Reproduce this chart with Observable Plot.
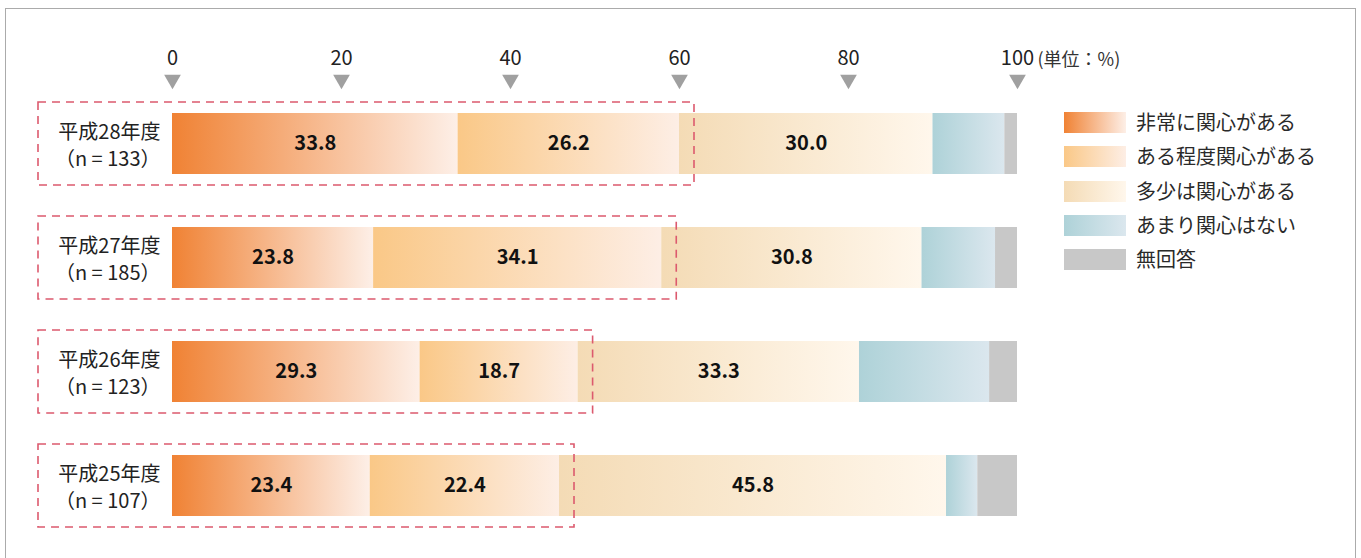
<!DOCTYPE html>
<html>
<head>
<meta charset="utf-8">
<script src="https://cdn.jsdelivr.net/npm/d3@7"></script>
<script src="https://cdn.jsdelivr.net/npm/@observablehq/plot@0.6"></script>
<style>
  html, body { margin: 0; padding: 0; background: #fff; }
  #wrap { position: relative; width: 1361px; height: 558px; overflow: hidden; font-family: "Noto Sans CJK JP", "Noto Sans", sans-serif; }
  #border { position: absolute; left: 5px; top: 8px; width: 1351px; height: 600px; border: 1.5px solid #ababab; box-sizing: border-box; }
  #chart { position: absolute; left: 0; top: 0; }
  #legend { position: absolute; left: 1064px; top: 112px; }
  .item { position: relative; height: 34.3px; }
  .sw { position: absolute; left: 0; top: 0; width: 62px; height: 21px; }
  .lab { position: absolute; left: 72px; top: -4px; font-size: 20px; line-height: 28px; color: #2a2a2a; white-space: nowrap; }
</style>
</head>
<body>
<div id="wrap">
  <div id="border"></div>
  <div id="chart"></div>
  <div id="legend"></div>
</div>
<script>
const rows = ["平成28年度", "平成27年度", "平成26年度", "平成25年度"];
const counts = [133, 185, 123, 107];
const categories = ["非常に関心がある", "ある程度関心がある", "多少は関心がある", "あまり関心はない", "無回答"];
const veryInterested = [33.8, 23.8, 29.3, 23.4];
const somewhatInterested = [26.2, 34.1, 18.7, 22.4];
const slightlyInterested = [30.0, 30.8, 33.3, 45.8];
const notInterested = [8.5, 8.7, 15.4, 3.7];
const noAnswer = [1.5, 2.6, 3.3, 4.7];
const ticks = [0, 20, 40, 60, 80, 100];
const unitLabel = "(単位：%)";
const gradStart = ["#F08234", "#FAC887", "#F4DBB5", "#AED2D8", "#C8C8C8"];
const gradEnd = ["#FDEFE7", "#FDEEE5", "#FFF7EC", "#DBE7EE", "#C8C8C8"];

const series = [veryInterested, somewhatInterested, slightlyInterested, notInterested, noAnswer];
const data = [];
rows.forEach((row, r) => {
  series.forEach((s, i) => data.push({row, cat: categories[i], idx: i, value: s[r]}));
});
const rowData = rows.map((row, r) => ({row, n: counts[r], highlight: veryInterested[r] + somewhatInterested[r]}));

const svg = Plot.plot({
  width: 1361,
  height: 558,
  margin: 0,
  style: {fontFamily: '"Noto Sans CJK JP", "Noto Sans", sans-serif', background: "transparent"},
  x: {domain: [0, 100], range: [172, 1017], axis: null},
  y: {domain: rows, range: [58.66, 569.4], padding: 0.4665, axis: null},
  color: {domain: categories, range: categories.map((_, i) => `url(#grad${i})`)},
  marks: [
    Plot.barX(data, Plot.stackX({x: "value", y: "row", fill: "cat", order: null})),
    Plot.text(data, Plot.stackX({
      x: "value", y: "row", z: "cat", order: null,
      text: d => d.idx < 3 ? d.value.toFixed(1) : null,
      fontSize: 20, fontWeight: "bold", fill: "#111"
    })),
    Plot.barX(rowData, {
      x1: d => 0, x2: "highlight", y: "row",
      fill: "none", stroke: "#DC5A6E", strokeWidth: 1.6, strokeDasharray: "8,6",
      insetLeft: -134, insetRight: -15, insetTop: -11, insetBottom: -11
    }),
    Plot.text(rowData, {
      x: d => 0, y: "row", text: d => `${d.row}\n（n = ${d.n}）`,
      textAnchor: "end", dx: -12, fontSize: 20, lineHeight: 1.35, fill: "#222"
    }),
    Plot.text(ticks, {x: d => d, frameAnchor: "top", lineAnchor: "middle", dy: 58, text: d => String(d), fontSize: 20, fill: "#222"}),
    Plot.text([unitLabel], {x: d => 100, frameAnchor: "top", lineAnchor: "middle", dy: 60, text: d => d, textAnchor: "start", dx: 20, fontSize: 18, fill: "#333"}),
    Plot.dot(ticks, {x: d => d, frameAnchor: "top", dy: 79, symbol: "triangle", rotate: 180, r: 6.2, fill: "#A0A0A0", stroke: "none"})
  ]
});

const defs = d3.select(svg).insert("defs", ":first-child");
gradStart.forEach((c, i) => {
  const g = defs.append("linearGradient").attr("id", `grad${i}`).attr("x1", 0).attr("x2", 1).attr("y1", 0).attr("y2", 0);
  g.append("stop").attr("offset", 0).attr("stop-color", c);
  g.append("stop").attr("offset", 1).attr("stop-color", gradEnd[i]);
});

document.getElementById("chart").appendChild(svg);

const legend = d3.select("#legend");
categories.forEach((c, i) => {
  const item = legend.append("div").attr("class", "item");
  item.append("div").attr("class", "sw").style("background", `linear-gradient(to right, ${gradStart[i]}, ${gradEnd[i]})`);
  item.append("div").attr("class", "lab").text(c);
});
</script>
</body>
</html>
